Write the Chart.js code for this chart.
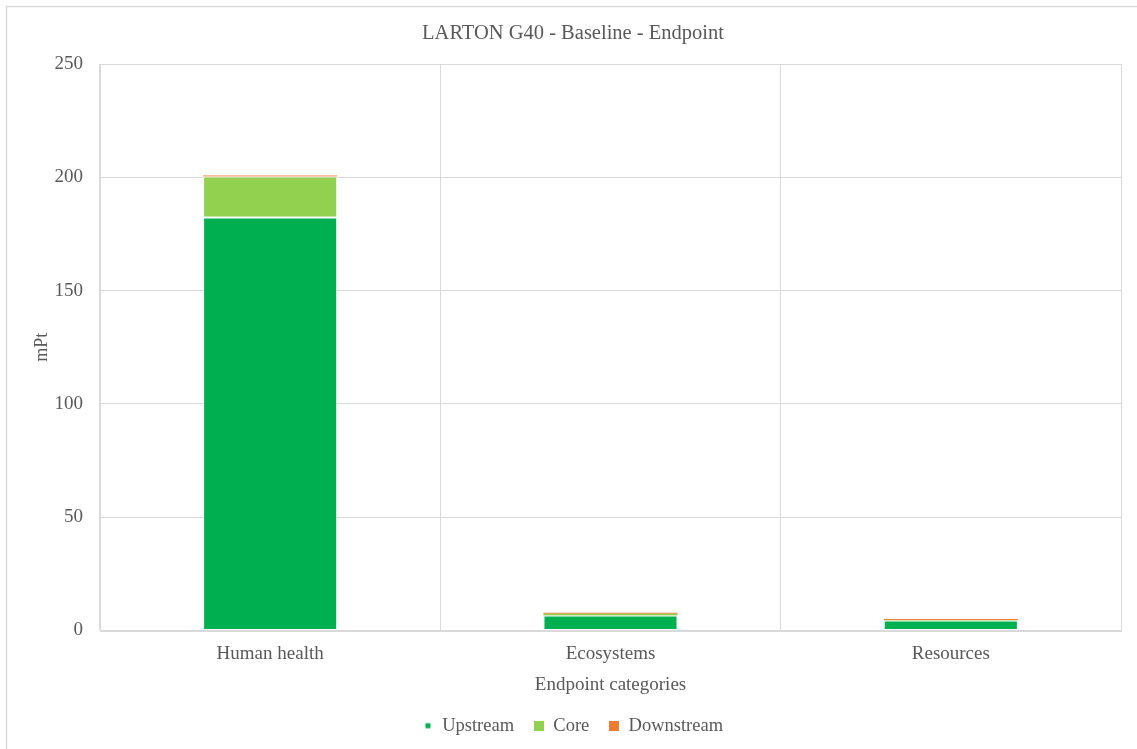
<!DOCTYPE html>
<html>
<head>
<meta charset="utf-8">
<title>LARTON G40 - Baseline - Endpoint</title>
<script src="https://cdn.jsdelivr.net/npm/chart.js@4/dist/chart.umd.min.js"></script>
<style>
  html, body { margin: 0; padding: 0; background: #ffffff; overflow: hidden; }
  #wrap { position: absolute; left: 0; top: 0; width: 1150px; height: 749px; }
</style>
</head>
<body>
<div id="wrap"><canvas id="chart" width="1150" height="749"></canvas></div>
<script>
// Endpoint categories and life-cycle stage contributions (mPt)
const categories = ['Human health', 'Ecosystems', 'Resources'];
const upstream   = [182.3, 6.6, 4.4];
const core       = [18.0, 0.8, 0.2];
const downstream = [0.5, 0.4, 0.5];
const yTicks     = [0, 50, 100, 150, 200, 250];

const textColor = '#595959';
const gridColor = '#d9d9d9';
const serif = '"Liberation Serif", "Times New Roman", serif';

// small square legend markers (Upstream marker is drawn smaller)
function marker(color, size) {
  const c = document.createElement('canvas');
  c.width = 10; c.height = 10;
  const g = c.getContext('2d');
  g.fillStyle = color;
  const o = (10 - size) / 2;
  g.fillRect(o, o, size, size);
  return c;
}

// frame around the whole chart and around the plot area
const frames = {
  id: 'frames',
  beforeDraw(chart) {
    const ctx = chart.ctx;
    ctx.save();
    ctx.strokeStyle = gridColor;
    ctx.lineWidth = 1.5;
    ctx.strokeRect(6.5, 6.5, 1133, chart.height + 20);
    ctx.restore();
  },
  afterDatasetsDraw(chart) {
    const a = chart.chartArea;
    const ctx = chart.ctx;
    ctx.save();
    ctx.strokeStyle = gridColor;
    ctx.lineWidth = 1;
    ctx.strokeRect(Math.round(a.left) + 0.5, Math.round(a.top) + 0.5,
                   Math.round(a.right - a.left), Math.round(a.bottom - a.top));
    ctx.restore();
  }
};

const colors = { Upstream: '#00b050', Core: '#92d050', Downstream: '#ed7d31' };
const markerSize = { Upstream: 5, Core: 10, Downstream: 10 };

// white outline only on segments thick enough to show it
const outline = v => v >= 1 ? 1 : 0;

new Chart(document.getElementById('chart'), {
  type: 'bar',
  data: {
    labels: categories,
    datasets: [
      { label: 'Upstream',   data: upstream,   backgroundColor: colors.Upstream,   borderWidth: upstream.map(outline) },
      { label: 'Core',       data: core,       backgroundColor: colors.Core,       borderWidth: core.map(outline) },
      { label: 'Downstream', data: downstream, backgroundColor: colors.Downstream, borderWidth: downstream.map(outline) }
    ].map(d => Object.assign(d, {
      borderColor: '#ffffff', borderSkipped: false,
      categoryPercentage: 1, barPercentage: 0.394
    }))
  },
  options: {
    responsive: false,
    animation: false,
    devicePixelRatio: 1,
    layout: { padding: { left: 6, right: 10, top: 6, bottom: 4 } },
    plugins: {
      tooltip: { enabled: false },
      title: {
        display: true,
        text: 'LARTON G40 - Baseline - Endpoint',
        color: textColor,
        font: { family: serif, size: 20.5, weight: 'normal', lineHeight: 1.2 },
        padding: { top: 15.7, bottom: 17.7 }
      },
      legend: {
        position: 'bottom',
        labels: {
          color: textColor,
          font: { family: serif, size: 18.5 },
          usePointStyle: true,
          boxWidth: 10,
          boxHeight: 10,
          padding: 20,
          generateLabels(chart) {
            return chart.data.datasets.map((d, i) => ({
              text: d.label,
              fillStyle: d.backgroundColor,
              strokeStyle: d.backgroundColor,
              lineWidth: 0,
              pointStyle: marker(d.backgroundColor, markerSize[d.label]),
              fontColor: textColor,
              datasetIndex: i,
              hidden: false
            }));
          }
        }
      }
    },
    scales: {
      x: {
        stacked: true,
        offset: true,
        grid: { color: gridColor, offset: true, drawTicks: false },
        border: { color: gridColor },
        ticks: { color: textColor, font: { family: serif, size: 19 }, padding: 12 },
        title: {
          display: true, text: 'Endpoint categories', color: textColor,
          font: { family: serif, size: 19 }, padding: { top: 2, bottom: 0 }
        },
        afterFit(s) { s.height = 66; }
      },
      y: {
        stacked: true,
        min: 0, max: 250,
        afterBuildTicks(s) { s.ticks = yTicks.map(v => ({ value: v })); },
        grid: { color: gridColor, drawTicks: false },
        border: { color: gridColor },
        ticks: { color: textColor, font: { family: serif, size: 19 }, padding: 17 },
        title: {
          display: true, text: 'mPt', color: textColor,
          font: { family: serif, size: 18 }, padding: { top: 25, bottom: 0 }
        },
        afterFit(s) { s.width = 94; }
      },
      // empty margin to the right of the plot area
      yRight: {
        position: 'right',
        display: true,
        grid: { display: false, drawTicks: false },
        border: { display: false },
        ticks: { display: false },
        afterFit(s) { s.width = 19; }
      }
    }
  },
  plugins: [frames]
});
</script>
</body>
</html>
